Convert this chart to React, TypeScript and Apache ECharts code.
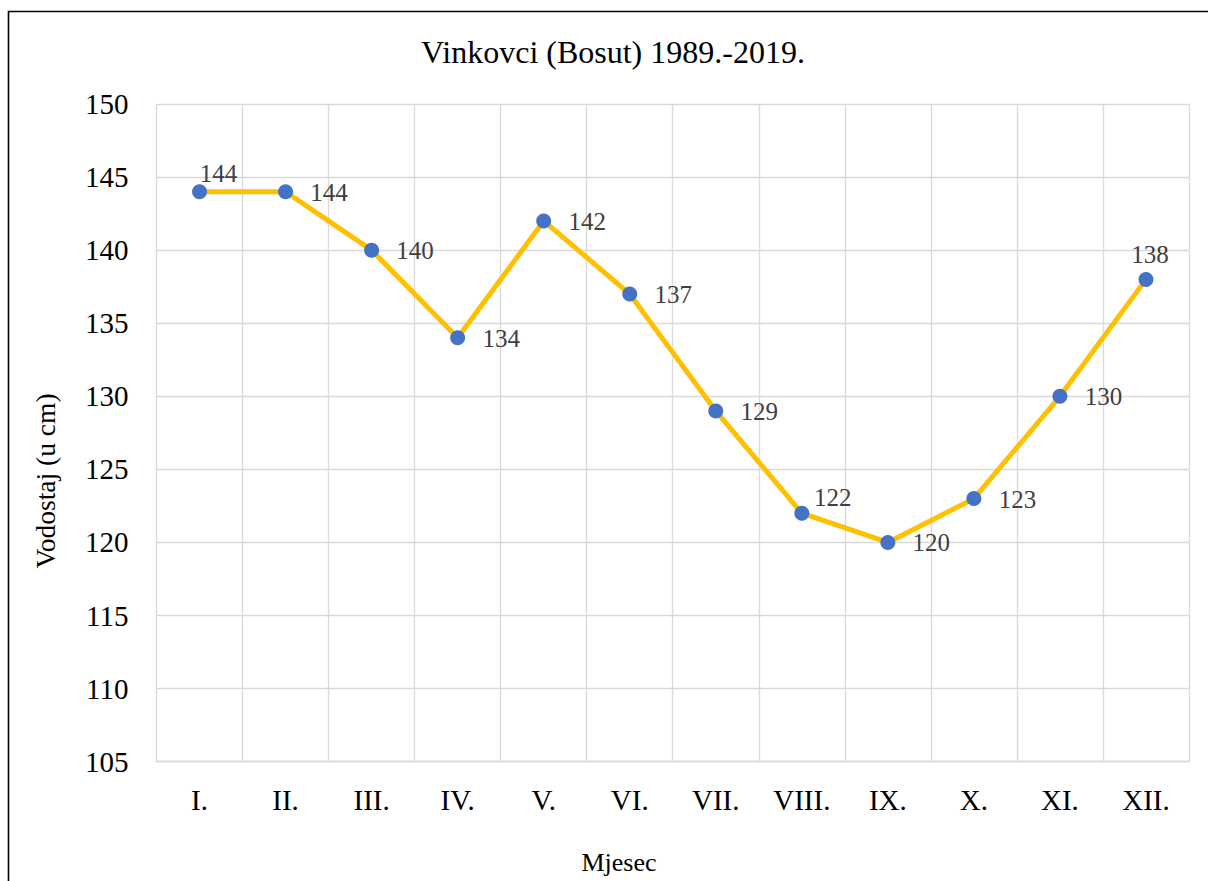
import React, { useEffect, useRef } from "react";
import * as echarts from "echarts";

const months = ["I.", "II.", "III.", "IV.", "V.", "VI.", "VII.", "VIII.", "IX.", "X.", "XI.", "XII."];
const waterLevels = [144, 144, 140, 134, 142, 137, 129, 122, 120, 123, 130, 138];
const yTicks = { min: 105, max: 150, interval: 5 };
const titleText = "Vinkovci (Bosut) 1989.-2019.";
const yAxisTitle = "Vodostaj (u cm)";
const xAxisTitle = "Mjesec";

// label placement exceptions (index -> offset from marker centre), others sit to the right
const labelOffsetExceptions: Record<number, [number, number]> = {
  0: [19, -18],
  7: [31, -16],
  11: [4, -25],
};
const defaultLabelOffset: [number, number] = [43.5, 0.5];

const FONT = "Liberation Serif";

export default function App() {
  const ref = useRef<HTMLDivElement>(null);

  useEffect(() => {
    if (!ref.current) return;
    const chart = echarts.init(ref.current, undefined, { renderer: "svg" });

    const seriesData = waterLevels.map((v, i) => ({
      value: v,
      label: {
        position: "inside",
        offset: labelOffsetExceptions[i] ?? defaultLabelOffset,
      },
    }));

    chart.setOption({
      animation: false,
      backgroundColor: "#ffffff",
      textStyle: { fontFamily: FONT },
      grid: { left: 156.5, right: 1208 - 1189, top: 104, bottom: 881 - 761.7, containLabel: false },
      xAxis: {
        type: "category",
        data: months,
        boundaryGap: true,
        axisLine: { show: true, lineStyle: { color: "#D9D9D9", width: 1.3 } },
        axisTick: { show: false },
        splitLine: { show: true, lineStyle: { color: "#D9D9D9", width: 1.3 } },
        axisLabel: { color: "#000000", fontSize: 29, fontFamily: FONT, margin: 24 },
      },
      yAxis: {
        type: "value",
        min: yTicks.min,
        max: yTicks.max,
        interval: yTicks.interval,
        axisLine: { show: false },
        axisTick: { show: false },
        splitLine: { show: true, lineStyle: { color: "#D9D9D9", width: 1.3 } },
        axisLabel: { color: "#000000", fontSize: 29, fontFamily: FONT, margin: 28 },
      },
      series: [
        {
          type: "line",
          data: seriesData,
          symbol: "circle",
          symbolSize: 15,
          lineStyle: { color: "#FFC000", width: 5 },
          itemStyle: { color: "#4472C4" },
          label: {
            show: true,
            color: "#404040",
            fontSize: 25,
            fontFamily: FONT,
          },
          z: 3,
        },
      ],
      graphic: [
        {
          type: "rect",
          shape: { x: 8.5, y: 11.5, width: 1400, height: 1000 },
          style: { fill: "none", stroke: "#000000", lineWidth: 1.6 },
          silent: true,
          z: 100,
        },
        {
          type: "text",
          x: 613,
          y: 52,
          style: {
            text: titleText,
            fontSize: 32,
            fontFamily: FONT,
            fill: "#000000",
            align: "center",
            verticalAlign: "middle",
          },
        },
        {
          type: "text",
          x: 45,
          y: 481,
          rotation: Math.PI / 2,
          style: {
            text: yAxisTitle,
            fontSize: 27.5,
            fontFamily: FONT,
            fill: "#000000",
            align: "center",
            verticalAlign: "middle",
          },
        },
        {
          type: "text",
          x: 619,
          y: 862,
          style: {
            text: xAxisTitle,
            fontSize: 26,
            fontFamily: FONT,
            fill: "#000000",
            align: "center",
            verticalAlign: "middle",
          },
        },
      ],
    });

    return () => chart.dispose();
  }, []);

  return (
    <div
      ref={ref}
      style={{ position: "fixed", left: 0, top: 0, width: 1208, height: 881, background: "#fff" }}
    />
  );
}
